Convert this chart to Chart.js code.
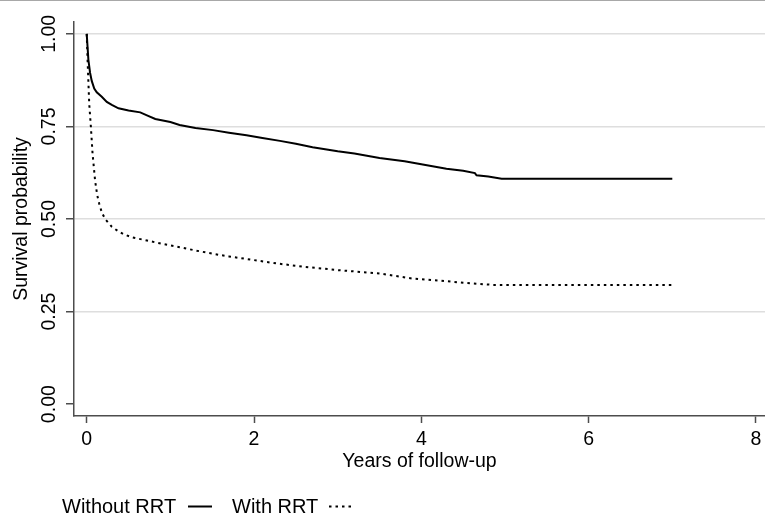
<!DOCTYPE html>
<html><head><meta charset="utf-8">
<script src="https://cdn.jsdelivr.net/npm/chart.js@4.4.1/dist/chart.umd.min.js"></script>
<style>html,body{margin:0;padding:0;background:#fff;}canvas{display:block;}</style>
</head><body>
<canvas id="c" width="765" height="519"></canvas>
<script>
// ---- data ----
const seriesLabels = ['Without RRT', 'With RRT'];
const withoutRrtYears = [0, 0.01, 0.02, 0.04, 0.06, 0.09, 0.12, 0.18, 0.24, 0.30, 0.38, 0.50, 0.64, 0.72, 0.82, 1.00, 1.11, 1.30, 1.51, 1.70, 1.91, 2.10, 2.31, 2.50, 2.70, 3.00, 3.20, 3.50, 3.80, 4.00, 4.30, 4.50, 4.64, 4.66, 4.80, 4.96, 7.00];
const withoutRrtSurvival = [1.000, 0.965, 0.930, 0.895, 0.873, 0.852, 0.842, 0.830, 0.816, 0.808, 0.799, 0.793, 0.788, 0.780, 0.770, 0.762, 0.754, 0.746, 0.740, 0.733, 0.726, 0.719, 0.711, 0.703, 0.694, 0.683, 0.677, 0.665, 0.656, 0.648, 0.636, 0.630, 0.624, 0.618, 0.615, 0.609, 0.609];
const withRrtYears = [0, 0.01, 0.02, 0.03, 0.05, 0.07, 0.10, 0.125, 0.15, 0.18, 0.22, 0.30, 0.37, 0.44, 0.55, 0.72, 0.90, 1.11, 1.30, 1.51, 1.70, 1.91, 2.27, 2.60, 3.00, 3.50, 3.90, 4.20, 4.50, 4.86, 7.00];
const withRrtSurvival = [1.000, 0.930, 0.870, 0.811, 0.748, 0.676, 0.604, 0.565, 0.541, 0.518, 0.500, 0.479, 0.468, 0.459, 0.450, 0.442, 0.433, 0.424, 0.415, 0.406, 0.399, 0.392, 0.380, 0.371, 0.362, 0.353, 0.339, 0.334, 0.328, 0.322, 0.322];
const xTickValues = [0, 2, 4, 6, 8];
const xTickLabels = ['0', '2', '4', '6', '8'];
const yTickValues = [0, 0.25, 0.5, 0.75, 1];
const yTickLabels = ['0.00', '0.25', '0.50', '0.75', '1.00'];
const xAxisTitle = 'Years of follow-up';
const yAxisTitle = 'Survival probability';

// ---- styling ----
const FONT = "'Liberation Sans', Arial, Helvetica, sans-serif";
const FS_TICK = 19.5;
const FS_TITLE = 19.5;
const FS_LEGEND = 20;
const AXIS = '#4d4d4d';
const GRID = '#dedede';
const CLEAR = 'rgba(0,0,0,0)';

const toPoints = (xs, ys) => xs.map((x, i) => ({x: x, y: ys[i]}));

const decorPlugin = {
  id: 'decor',
  beforeDraw(chart) {
    const ctx = chart.ctx;
    ctx.save();
    ctx.fillStyle = '#fff';
    ctx.fillRect(0, 0, chart.width, chart.height);
    ctx.fillStyle = '#a8a8a8';
    ctx.fillRect(0, 0, chart.width, 1);
    ctx.restore();
  },
  afterDraw(chart) {
    const ctx = chart.ctx;
    const textX = [62, 232];
    const lineX = [188, 329];
    const lineLen = 24;
    ctx.save();
    ctx.font = FS_LEGEND + 'px ' + FONT;
    ctx.fillStyle = '#000';
    ctx.textBaseline = 'alphabetic';
    chart.data.datasets.forEach((ds, i) => {
      ctx.fillText(ds.label, textX[i], 513);
      ctx.beginPath();
      ctx.setLineDash(ds.borderDash || []);
      ctx.lineWidth = ds.borderWidth;
      ctx.strokeStyle = ds.borderColor;
      ctx.lineCap = 'butt';
      ctx.moveTo(lineX[i], 506.5);
      ctx.lineTo(lineX[i] + lineLen, 506.5);
      ctx.stroke();
    });
    ctx.restore();
  }
};

new Chart(document.getElementById('c'), {
  type: 'scatter',
  data: {
    datasets: [
      {label: seriesLabels[0], data: toPoints(withoutRrtYears, withoutRrtSurvival), showLine: true,
       borderColor: '#000', borderWidth: 2, pointRadius: 0, fill: false, tension: 0},
      {label: seriesLabels[1], data: toPoints(withRrtYears, withRrtSurvival), showLine: true,
       borderColor: '#000', borderWidth: 2, borderDash: [2.5, 4], pointRadius: 0, fill: false, tension: 0}
    ]
  },
  options: {
    responsive: false,
    animation: false,
    devicePixelRatio: 1,
    layout: {padding: {top: 22, right: 0, bottom: 0, left: 0}},
    plugins: {legend: {display: false}, tooltip: {enabled: false}},
    scales: {
      x: {
        type: 'linear', min: -0.152, max: 8.108,
        afterBuildTicks: s => { s.ticks = xTickValues.map(v => ({value: v})); },
        afterFit: s => { s.height = 103; s.paddingLeft = 0; s.paddingRight = 0; },
        ticks: {callback: (v, i) => xTickLabels[i], color: '#000', font: {family: FONT, size: FS_TICK}, padding: 5, maxRotation: 0, minRotation: 0, autoSkip: false},
        grid: {display: true, drawOnChartArea: false, drawTicks: true, tickLength: 7,
               tickColor: c => (c.tick && xTickValues.includes(c.tick.value)) ? AXIS : CLEAR, tickWidth: 1.5},
        border: {display: true, color: AXIS, width: 1.5},
        title: {display: true, text: xAxisTitle, color: '#000', font: {family: FONT, size: FS_TITLE}, padding: {top: 0, bottom: 46}}
      },
      y: {
        type: 'linear', min: -0.032, max: 1.032,
        afterBuildTicks: s => { s.ticks = yTickValues.map(v => ({value: v})); },
        afterFit: s => { s.width = 74; s.paddingTop = 0; s.paddingBottom = 0; },
        ticks: {callback: (v, i) => yTickLabels[i], color: '#000', font: {family: FONT, size: FS_TICK}, padding: -3, minRotation: 90, maxRotation: 90, crossAlign: 'center', autoSkip: false},
        grid: {display: true, drawOnChartArea: true, drawTicks: true, tickLength: 8,
               color: c => (c.tick && c.tick.value !== 0) ? GRID : CLEAR,
               lineWidth: 1.5,
               tickColor: c => (c.tick && yTickValues.includes(c.tick.value)) ? AXIS : CLEAR, tickWidth: 1.5},
        border: {display: true, color: AXIS, width: 1.5},
        title: {display: true, text: yAxisTitle, color: '#000', font: {family: FONT, size: FS_TITLE}, padding: {top: 10, bottom: 0}}
      }
    }
  },
  plugins: [decorPlugin]
});
</script>
</body></html>
